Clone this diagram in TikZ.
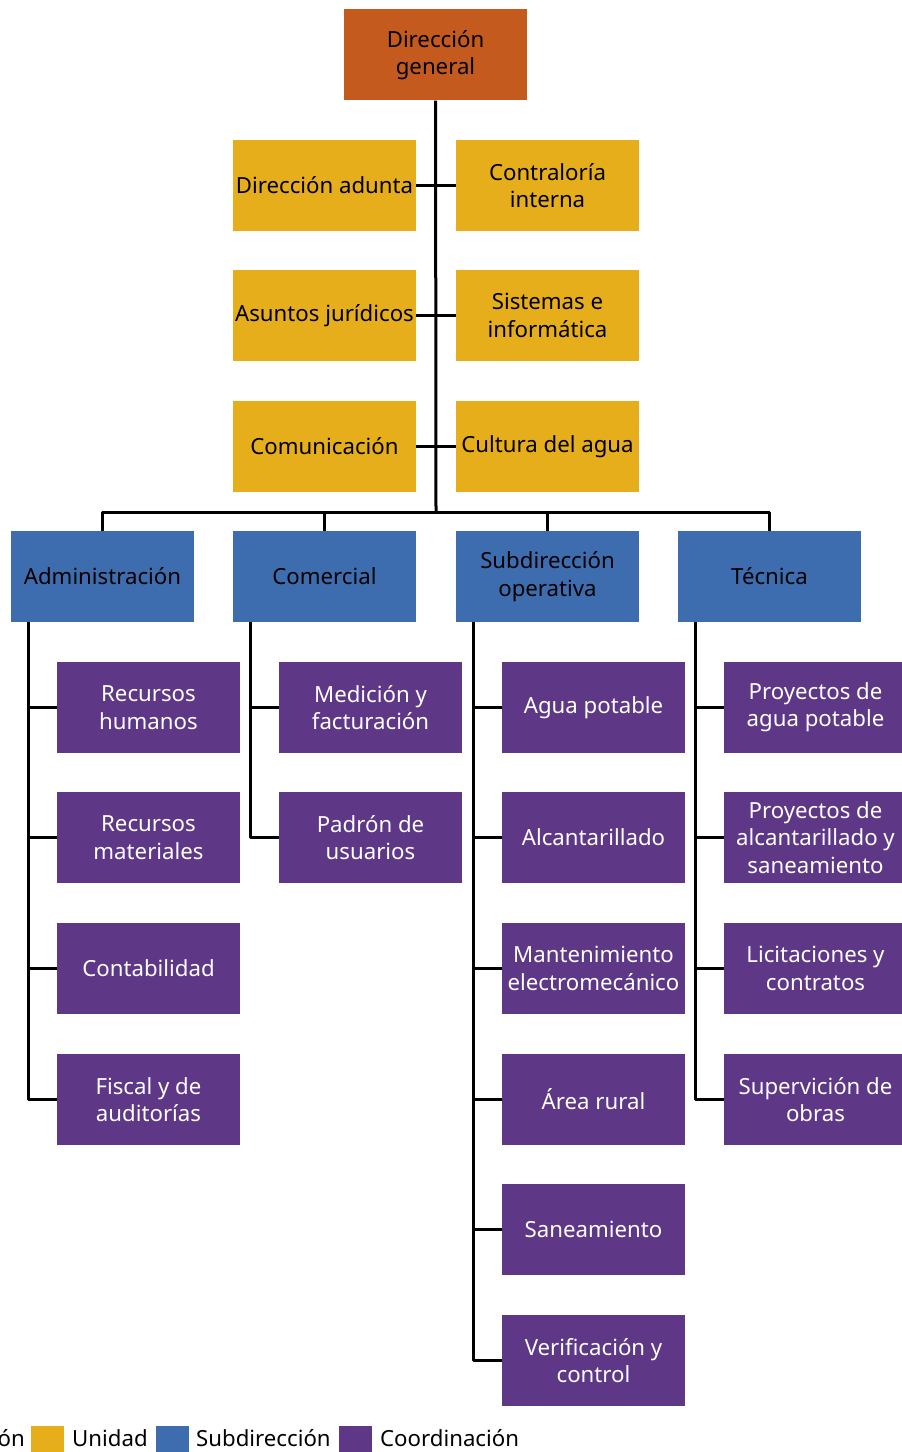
\documentclass[tikz,border=0pt]{standalone}
\usepackage{fontspec}
\setmainfont{Noto Sans}
\usetikzlibrary{positioning}

\definecolor{cdir}{HTML}{C55A1E}
\definecolor{cuni}{HTML}{E6AE1B}
\definecolor{csub}{HTML}{3D6DAE}
\definecolor{ccoo}{HTML}{5E3786}

\begin{document}
\begin{tikzpicture}[x=1bp,y=-1bp,line join=bevel,
  box/.style={minimum width=183bp,minimum height=91bp,inner sep=0pt,align=center,
    font=\fontsize{22.3}{27.5}\selectfont},
  dirbox/.style={box,fill=cdir,text=black},
  unibox/.style={box,fill=cuni,text=black},
  subbox/.style={box,fill=csub,text=black},
  coobox/.style={box,fill=ccoo,text=white},
  link/.style={black,line width=3bp},
  key/.style={font=\fontsize{22.3}{26}\selectfont,anchor=base west,inner sep=0pt},
  swatch/.style={minimum width=33bp,minimum height=30bp,inner sep=0pt,anchor=north west}]
\useasboundingbox (0,0) rectangle (901,1452);
%%
\node (node_0) at (435.5,55) [dirbox] {Dirección\\general};
  \node (node_1) at (324.5,185.5) [unibox] {Dirección adunta};
  \node (node_2) at (547.5,185.5) [unibox] {Contraloría\\interna};
  \node (node_3) at (324.5,315.5) [unibox] {Asuntos jurídicos};
  \node (node_4) at (547.5,315.5) [unibox] {Sistemas e\\informática};
  \node (node_5) at (324.5,446.5) [unibox] {Comunicación};
  \node (node_6) at (547.5,446.5) [unibox] {Cultura del agua};
  \coordinate (bus) at (436,512);
  \node (node_7) at (102.5,576.5) [subbox] {Administración};
  \node (node_8) at (324.5,576.5) [subbox] {Comercial};
  \node (node_9) at (547.5,576.5) [subbox] {Subdirección\\operativa};
  \node (node_10) at (769.5,576.5) [subbox] {Técnica};
  \node (node_11) at (148.5,707.5) [coobox] {Recursos\\humanos};
  \node (node_12) at (148.5,837.5) [coobox] {Recursos\\materiales};
  \node (node_13) at (148.5,968.5) [coobox] {Contabilidad};
  \node (node_14) at (148.5,1099.5) [coobox] {Fiscal y de\\auditorías};
  \node (node_15) at (370.5,707.5) [coobox] {Medición y\\facturación};
  \node (node_16) at (370.5,837.5) [coobox] {Padrón de\\usuarios};
  \node (node_17) at (593.5,707.5) [coobox] {Agua potable};
  \node (node_18) at (593.5,837.5) [coobox] {Alcantarillado};
  \node (node_19) at (593.5,968.5) [coobox] {Mantenimiento\\electromecánico};
  \node (node_20) at (593.5,1099.5) [coobox] {Área rural};
  \node (node_21) at (593.5,1229.5) [coobox] {Saneamiento};
  \node (node_22) at (593.5,1360.5) [coobox] {Verificación y\\control};
  \node (node_23) at (815.5,707.5) [coobox] {Proyectos de\\agua potable};
  \node (node_24) at (815.5,837.5) [coobox] {Proyectos de\\alcantarillado y\\saneamiento};
  \node (node_25) at (815.5,968.5) [coobox] {Licitaciones y\\contratos};
  \node (node_26) at (815.5,1099.5) [coobox] {Supervición de\\obras};
  \draw [link] (node_0) -- (bus);
  \draw [link] (node_1) -- (node_2);
  \draw [link] (node_3) -- (node_4);
  \draw [link] (node_5) -- (node_6);
  \draw [link] (bus) -| (node_7.north);
  \draw [link] (bus) -| (node_8.north);
  \draw [link] (bus) -| (node_9.north);
  \draw [link] (bus) -| (node_10.north);
  \foreach \c in {11,12,13,14}
    \draw [link] ([xshift=18bp]node_7.south west) |- (node_\c.west);
  \foreach \c in {15,16}
    \draw [link] ([xshift=18bp]node_8.south west) |- (node_\c.west);
  \foreach \c in {17,...,22}
    \draw [link] ([xshift=18bp]node_9.south west) |- (node_\c.west);
  \foreach \c in {23,...,26}
    \draw [link] ([xshift=18bp]node_10.south west) |- (node_\c.west);
%
\node (key_0) at (25,1446) [key,anchor=base east] {Dirección};
  \node (sw_0) at (-40,1426) [swatch,fill=cdir] {};
  \node (sw_1) at (31,1426) [swatch,fill=cuni] {};
  \node (key_1) at (72,1446) [key] {Unidad};
  \node (sw_2) at (156,1426) [swatch,fill=csub] {};
  \node (key_2) at (196,1446) [key] {Subdirección};
  \node (sw_3) at (339,1426) [swatch,fill=ccoo] {};
  \node (key_3) at (380,1446) [key] {Coordinación};
%
\end{tikzpicture}
\end{document}
